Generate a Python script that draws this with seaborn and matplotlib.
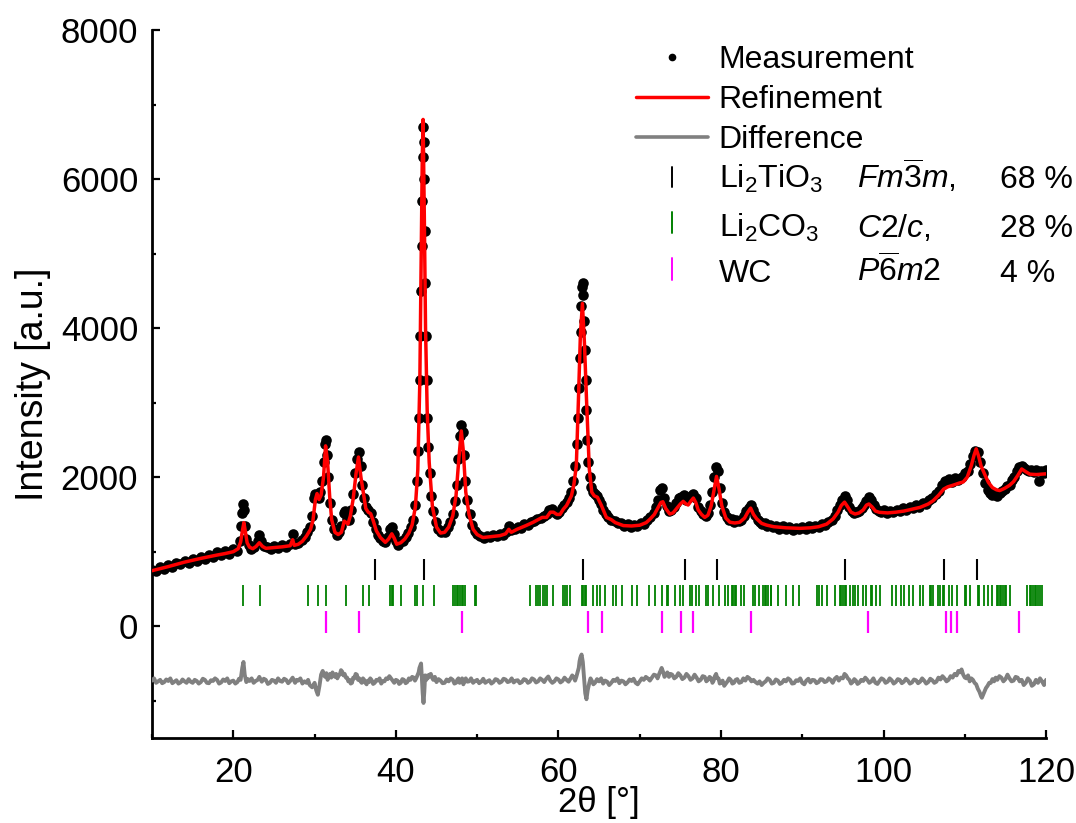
import matplotlib
matplotlib.use("Agg")
import matplotlib.pyplot as plt
from matplotlib.ticker import MultipleLocator
import seaborn as sns
import pandas as pd

# ---------------- data ----------------
# Rietveld refinement (calculated profile): (2theta, intensity)
calc_pts = [
    (10.0, 745), (12.0, 800), (14.0, 860), (16.0, 910), (18.0, 955), (19.0, 975),
    (20.0, 1000), (20.6, 1040), (20.9, 1130), (21.15, 1300), (21.3, 1390), (21.45, 1290),
    (21.7, 1120), (22.0, 1060), (22.4, 1040), (22.8, 1070), (23.2, 1120), (23.6, 1070),
    (24.0, 1045), (25.0, 1055), (26.0, 1065), (27.0, 1080), (27.3, 1160), (27.5, 1085),
    (28.0, 1100), (28.5, 1140), (29.0, 1210), (29.5, 1300), (29.8, 1420), (30.1, 1700),
    (30.3, 1780), (30.55, 1700), (30.8, 1760), (31.1, 2000), (31.35, 2420), (31.6, 2200),
    (31.85, 1750), (32.1, 1430), (32.5, 1260), (32.9, 1230), (33.3, 1260), (33.65, 1410),
    (33.9, 1390), (34.1, 1370), (34.4, 1480), (34.75, 1710), (35.1, 2050), (35.4, 2270),
    (35.7, 2000), (36.0, 1790), (36.3, 1580), (36.6, 1530), (36.9, 1510), (37.2, 1420),
    (37.6, 1280), (38.1, 1190), (38.7, 1125), (39.1, 1170), (39.5, 1240), (39.8, 1180),
    (40.1, 1100), (40.6, 1120), (41.1, 1170), (41.6, 1250), (42.0, 1360), (42.4, 1600),
    (42.7, 2100), (42.95, 3300), (43.1, 4800), (43.25, 6300), (43.35, 6800), (43.5, 5500),
    (43.65, 4000), (43.85, 2900), (44.1, 2200), (44.5, 1600), (45.0, 1330), (45.5, 1250),
    (46.0, 1260), (46.5, 1330), (47.0, 1480), (47.4, 1750), (47.75, 2250), (48.05, 2620),
    (48.3, 2350), (48.6, 1800), (49.0, 1500), (49.5, 1300), (50.0, 1230), (50.7, 1190),
    (51.5, 1200), (52.8, 1215), (53.5, 1240), (53.9, 1300), (54.2, 1260), (54.9, 1300),
    (56.0, 1350), (56.9, 1395), (58.0, 1460), (58.55, 1460), (59.0, 1530), (59.4, 1530),
    (59.8, 1500), (60.2, 1500), (60.6, 1570), (61.0, 1620), (61.6, 1750), (61.9, 1900),
    (62.2, 2150), (62.45, 3000), (62.7, 3900), (62.95, 4330), (63.2, 3800), (63.47, 3000),
    (63.8, 2110), (64.1, 1800), (64.4, 1750), (64.8, 1730), (65.3, 1617), (65.9, 1460),
    (66.5, 1430), (67.0, 1390), (68.0, 1350), (69.0, 1345), (70.0, 1355), (70.8, 1390),
    (71.3, 1440), (71.8, 1500), (72.2, 1580), (72.6, 1660), (72.85, 1670), (73.2, 1580),
    (73.7, 1505), (74.1, 1520), (74.5, 1573), (75.0, 1640), (75.35, 1675), (75.7, 1640),
    (75.96, 1626), (76.3, 1680), (76.6, 1720), (76.9, 1660), (77.2, 1560), (77.6, 1500),
    (78.0, 1460), (78.4, 1490), (78.8, 1617), (79.1, 1800), (79.45, 2010), (79.75, 1850),
    (80.1, 1617), (80.6, 1450), (81.1, 1395), (81.7, 1385), (82.3, 1395), (82.9, 1450),
    (83.3, 1530), (83.65, 1585), (84.0, 1500), (84.4, 1440), (85.0, 1380), (85.6, 1357),
    (86.5, 1335), (88.0, 1320), (89.7, 1313), (91.0, 1320), (92.0, 1335), (93.0, 1370),
    (93.8, 1440), (94.4, 1530), (94.8, 1620), (95.2, 1665), (95.6, 1600), (96.0, 1530),
    (96.5, 1505), (97.0, 1520), (97.5, 1560), (97.9, 1625), (98.2, 1640), (98.6, 1600),
    (99.0, 1545), (99.5, 1528), (100.5, 1520), (101.5, 1530), (102.5, 1545), (103.5, 1570),
    (104.5, 1595), (105.5, 1640), (106.1, 1684), (106.8, 1760), (107.4, 1840), (107.9, 1870),
    (108.5, 1890), (109.3, 1920), (109.8, 1935), (110.3, 2000), (110.8, 2155), (111.15, 2300),
    (111.4, 2380), (111.7, 2280), (112.0, 2150), (112.4, 2050), (112.9, 1930), (113.4, 1860),
    (113.9, 1830), (114.3, 1820), (114.9, 1850), (115.5, 1890), (116.0, 1940), (116.5, 2020),
    (117.0, 2110), (117.4, 2080), (118.0, 2040), (118.8, 2035), (119.4, 2040), (120.0, 2045),
]

# Measured pattern: (2theta, intensity)
meas_pts = [
    (10.0, 760), (10.5, 740), (11.0, 790), (11.5, 770), (12.0, 820), (12.5, 800),
    (13.0, 850), (13.5, 830), (14.0, 870), (14.5, 850), (15.0, 900), (15.5, 880),
    (16.0, 930), (16.5, 905), (17.0, 950), (17.5, 925), (18.0, 990), (18.5, 950),
    (19.0, 1010), (19.5, 975), (20.0, 1030), (20.5, 1010), (20.8, 1150), (21.0, 1350),
    (21.1, 1520), (21.2, 1640), (21.3, 1560), (21.4, 1350), (21.6, 1170), (21.9, 1090),
    (22.2, 1040), (22.6, 1060), (23.0, 1150), (23.2, 1230), (23.4, 1150), (23.8, 1070),
    (24.2, 1060), (24.6, 1030), (25.0, 1070), (25.5, 1050), (26.0, 1090), (26.5, 1060),
    (27.0, 1100), (27.3, 1240), (27.6, 1100), (28.0, 1120), (28.4, 1160), (28.8, 1200),
    (29.1, 1260), (29.4, 1330), (29.7, 1480), (29.9, 1720), (30.1, 1780), (30.3, 1760),
    (30.5, 1720), (30.7, 1800), (30.9, 1950), (31.1, 2200), (31.25, 2450), (31.4, 2500),
    (31.55, 2300), (31.7, 2000), (31.9, 1650), (32.1, 1420), (32.4, 1300), (32.7, 1230),
    (33.0, 1260), (33.3, 1340), (33.6, 1520), (33.8, 1550), (34.0, 1440), (34.2, 1430),
    (34.45, 1560), (34.7, 1780), (34.95, 2050), (35.2, 2250), (35.45, 2340), (35.65, 2150),
    (35.85, 1900), (36.1, 1720), (36.35, 1600), (36.6, 1560), (36.9, 1520), (37.2, 1400),
    (37.5, 1300), (37.8, 1230), (38.1, 1180), (38.4, 1150), (38.7, 1130), (39.0, 1200),
    (39.3, 1300), (39.5, 1330), (39.75, 1240), (40.0, 1140), (40.3, 1090), (40.6, 1140),
    (40.9, 1150), (41.2, 1200), (41.5, 1250), (41.8, 1330), (42.1, 1420), (42.35, 1620),
    (42.55, 1950), (42.7, 2350), (42.82, 2800), (42.93, 3300), (43.02, 3900), (43.1, 4500),
    (43.17, 5100), (43.23, 5700), (43.29, 6300), (43.35, 6700), (43.41, 6500), (43.47, 6000),
    (43.53, 5300), (43.6, 4600), (43.68, 3900), (43.77, 3300), (43.88, 2800), (44.0, 2400),
    (44.15, 2050), (44.35, 1750), (44.6, 1550), (44.9, 1400), (45.2, 1300), (45.5, 1270),
    (45.8, 1280), (46.1, 1260), (46.4, 1330), (46.7, 1400), (47.0, 1500), (47.25, 1680),
    (47.5, 1900), (47.7, 2250), (47.9, 2550), (48.05, 2700), (48.2, 2600), (48.35, 2300),
    (48.55, 1950), (48.8, 1700), (49.1, 1500), (49.4, 1360), (49.7, 1280), (50.0, 1240),
    (50.4, 1210), (50.8, 1180), (51.2, 1210), (51.6, 1200), (52.0, 1230), (52.4, 1210),
    (52.8, 1240), (53.2, 1230), (53.6, 1270), (53.9, 1340), (54.2, 1290), (54.6, 1300),
    (55.0, 1330), (55.4, 1320), (55.8, 1370), (56.2, 1360), (56.6, 1400), (57.0, 1410),
    (57.4, 1440), (57.8, 1450), (58.2, 1480), (58.6, 1500), (58.9, 1560), (59.2, 1570),
    (59.5, 1530), (59.8, 1510), (60.1, 1530), (60.4, 1590), (60.7, 1620), (61.0, 1660),
    (61.3, 1720), (61.6, 1800), (61.85, 1950), (62.05, 2150), (62.25, 2450), (62.4, 2800),
    (62.52, 3200), (62.62, 3600), (62.72, 3950), (62.82, 4300), (62.92, 4550), (63.0, 4600),
    (63.08, 4450), (63.16, 4100), (63.25, 3700), (63.35, 3300), (63.45, 2900), (63.57, 2500),
    (63.7, 2200), (63.85, 2000), (64.0, 1870), (64.2, 1800), (64.45, 1780), (64.7, 1750),
    (64.95, 1700), (65.2, 1640), (65.5, 1560), (65.8, 1500), (66.1, 1460), (66.5, 1430),
    (66.9, 1410), (67.3, 1390), (67.7, 1380), (68.1, 1350), (68.5, 1370), (68.9, 1330),
    (69.3, 1360), (69.7, 1340), (70.1, 1380), (70.5, 1370), (70.9, 1420), (71.3, 1460),
    (71.7, 1520), (72.0, 1600), (72.3, 1700), (72.55, 1830), (72.8, 1850), (73.05, 1720),
    (73.3, 1610), (73.6, 1540), (73.9, 1560), (74.2, 1600), (74.5, 1650), (74.8, 1720),
    (75.1, 1740), (75.4, 1760), (75.7, 1700), (76.0, 1720), (76.3, 1750), (76.6, 1770),
    (76.9, 1720), (77.2, 1600), (77.5, 1540), (77.8, 1500), (78.1, 1480), (78.4, 1520),
    (78.7, 1620), (78.95, 1800), (79.2, 2000), (79.4, 2130), (79.6, 2080), (79.85, 1850),
    (80.1, 1650), (80.4, 1530), (80.7, 1470), (81.0, 1420), (81.3, 1440), (81.6, 1400),
    (81.9, 1430), (82.2, 1410), (82.5, 1420), (82.8, 1480), (83.1, 1540), (83.4, 1590),
    (83.65, 1620), (83.9, 1560), (84.2, 1490), (84.5, 1420), (84.8, 1400), (85.1, 1370),
    (85.4, 1390), (85.7, 1340), (86.0, 1360), (86.4, 1330), (86.8, 1350), (87.2, 1310),
    (87.6, 1340), (88.0, 1300), (88.4, 1330), (88.8, 1290), (89.2, 1320), (89.6, 1300),
    (90.0, 1330), (90.4, 1310), (90.8, 1340), (91.2, 1320), (91.6, 1350), (92.0, 1330),
    (92.4, 1370), (92.8, 1360), (93.2, 1400), (93.6, 1430), (94.0, 1480), (94.3, 1560),
    (94.6, 1620), (94.9, 1700), (95.2, 1750), (95.5, 1700), (95.8, 1600), (96.1, 1540),
    (96.4, 1520), (96.7, 1530), (97.0, 1550), (97.3, 1580), (97.6, 1620), (97.9, 1680),
    (98.2, 1740), (98.5, 1700), (98.8, 1620), (99.1, 1570), (99.4, 1550), (99.7, 1530),
    (100.0, 1560), (100.4, 1520), (100.8, 1550), (101.2, 1530), (101.6, 1560), (102.0, 1540),
    (102.4, 1580), (102.8, 1560), (103.2, 1600), (103.6, 1580), (104.0, 1620), (104.4, 1600),
    (104.8, 1650), (105.2, 1640), (105.6, 1700), (106.0, 1720), (106.4, 1780), (106.8, 1820),
    (107.2, 1900), (107.6, 1950), (108.0, 1970), (108.4, 1940), (108.8, 1990), (109.2, 1960),
    (109.6, 2000), (110.0, 2050), (110.4, 2080), (110.7, 2170), (111.0, 2280), (111.3, 2350),
    (111.6, 2340), (111.9, 2200), (112.2, 2050), (112.5, 1920), (112.8, 1830), (113.1, 1790),
    (113.4, 1760), (113.7, 1780), (114.0, 1750), (114.3, 1790), (114.6, 1820), (114.9, 1840),
    (115.2, 1880), (115.5, 1900), (115.8, 1960), (116.1, 2000), (116.4, 2080), (116.7, 2130),
    (117.0, 2150), (117.3, 2120), (117.6, 2100), (117.9, 2080), (118.2, 2100), (118.5, 2070),
    (118.8, 2090), (119.1, 1950), (119.4, 2080), (119.7, 2060), (120.0, 2100),
]

# Difference curve (offset below the pattern): (2theta, intensity)
diff_pts = [
    (10.0, -730), (10.25, -700), (10.5, -760), (10.75, -740), (11.0, -720), (11.25, -765),
    (11.5, -750), (11.75, -715), (12.0, -735), (12.25, -700), (12.5, -765), (12.75, -745),
    (13.0, -725), (13.25, -770), (13.5, -755), (13.75, -715), (14.0, -740), (14.25, -760),
    (14.5, -710), (14.75, -745), (15.0, -760), (15.25, -720), (15.5, -735), (15.75, -770),
    (16.0, -750), (16.25, -705), (16.5, -720), (16.75, -760), (17.0, -765), (17.25, -725),
    (17.5, -735), (17.75, -700), (18.0, -720), (18.25, -770), (18.5, -755), (18.75, -715),
    (19.0, -735), (19.25, -700), (19.5, -765), (19.75, -740), (20.0, -730), (20.25, -770),
    (20.5, -750), (20.7, -705), (20.9, -720), (21.1, -560), (21.25, -480), (21.4, -650),
    (21.6, -750), (21.8, -710), (22.0, -735), (22.25, -700), (22.5, -760), (22.75, -735),
    (23.0, -720), (23.2, -680), (23.5, -745), (23.75, -705), (24.0, -720), (24.25, -775),
    (24.5, -760), (24.75, -720), (25.0, -730), (25.25, -760), (25.5, -700), (25.75, -735),
    (26.0, -745), (26.25, -705), (26.5, -720), (26.75, -765), (27.0, -735), (27.3, -690),
    (27.6, -760), (27.8, -720), (28.0, -730), (28.25, -700), (28.5, -770), (28.75, -740),
    (29.0, -760), (29.2, -720), (29.4, -790), (29.7, -820), (30.0, -760), (30.2, -860),
    (30.4, -920), (30.6, -800), (30.8, -650), (31.0, -600), (31.15, -660), (31.3, -680),
    (31.45, -630), (31.6, -720), (31.75, -660), (31.9, -640), (32.05, -690), (32.2, -620),
    (32.35, -660), (32.5, -680), (32.65, -640), (32.8, -700), (32.95, -660), (33.1, -650),
    (33.25, -590), (33.4, -610), (33.55, -660), (33.7, -640), (33.85, -690), (34.0, -690),
    (34.15, -740), (34.3, -720), (34.45, -770), (34.6, -760), (34.75, -690), (34.9, -700),
    (35.05, -640), (35.2, -650), (35.35, -720), (35.5, -700), (35.65, -740), (35.8, -760),
    (35.95, -700), (36.1, -720), (36.25, -760), (36.4, -780), (36.55, -730), (36.7, -750),
    (36.85, -700), (37.0, -720), (37.2, -775), (37.4, -760), (37.6, -720), (37.8, -730),
    (38.0, -700), (38.2, -770), (38.4, -735), (38.6, -740), (38.8, -700), (39.0, -710),
    (39.2, -670), (39.4, -700), (39.6, -730), (39.8, -760), (40.0, -720), (40.2, -730),
    (40.4, -775), (40.6, -760), (40.8, -710), (41.0, -720), (41.2, -765), (41.4, -750),
    (41.6, -700), (41.8, -720), (42.0, -680), (42.2, -690), (42.35, -730), (42.5, -700),
    (42.65, -660), (42.8, -620), (42.9, -560), (43.0, -530), (43.1, -500), (43.2, -700),
    (43.3, -900), (43.4, -1030), (43.5, -880), (43.6, -660), (43.75, -720), (43.9, -660),
    (44.0, -690), (44.15, -650), (44.3, -640), (44.45, -690), (44.6, -720), (44.8, -680),
    (45.0, -750), (45.25, -710), (45.5, -730), (45.75, -765), (46.0, -760), (46.25, -715),
    (46.5, -740), (46.75, -700), (47.0, -720), (47.2, -770), (47.4, -760), (47.55, -720),
    (47.7, -700), (47.85, -760), (48.0, -740), (48.15, -700), (48.3, -780), (48.45, -740),
    (48.6, -700), (48.8, -745), (49.0, -740), (49.25, -700), (49.5, -760), (49.75, -735),
    (50.0, -720), (50.25, -765), (50.5, -745), (50.75, -705), (51.0, -760), (51.25, -740),
    (51.5, -725), (51.75, -770), (52.0, -750), (52.25, -710), (52.5, -720), (52.75, -760),
    (53.0, -745), (53.25, -705), (53.5, -715), (53.75, -750), (54.0, -740), (54.25, -700),
    (54.5, -755), (54.75, -730), (55.0, -725), (55.25, -765), (55.5, -750), (55.75, -710),
    (56.0, -720), (56.25, -760), (56.5, -745), (56.75, -700), (57.0, -715), (57.25, -755),
    (57.5, -740), (57.75, -700), (58.0, -720), (58.25, -750), (58.5, -705), (58.75, -675),
    (59.0, -730), (59.25, -760), (59.5, -740), (59.75, -700), (60.0, -715), (60.25, -755),
    (60.5, -735), (60.75, -690), (61.0, -720), (61.25, -745), (61.5, -700), (61.7, -660),
    (61.9, -690), (62.05, -730), (62.2, -680), (62.35, -620), (62.5, -560), (62.6, -470),
    (62.7, -420), (62.85, -380), (63.0, -480), (63.15, -700), (63.3, -900), (63.45, -980),
    (63.6, -860), (63.8, -760), (63.95, -700), (64.1, -730), (64.3, -780), (64.5, -760),
    (64.75, -710), (65.0, -740), (65.25, -700), (65.5, -770), (65.75, -730), (66.0, -745),
    (66.25, -790), (66.5, -760), (66.75, -720), (67.0, -735), (67.25, -700), (67.5, -765),
    (67.75, -730), (68.0, -740), (68.25, -780), (68.5, -755), (68.75, -715), (69.0, -735),
    (69.25, -705), (69.5, -760), (69.75, -780), (70.0, -740), (70.25, -700), (70.5, -720),
    (70.75, -680), (71.0, -700), (71.25, -730), (71.5, -690), (71.75, -650), (72.0, -660),
    (72.2, -700), (72.4, -640), (72.55, -600), (72.7, -560), (72.9, -620), (73.05, -680),
    (73.2, -660), (73.4, -620), (73.6, -680), (73.8, -640), (74.0, -650), (74.25, -700),
    (74.5, -680), (74.75, -630), (75.0, -660), (75.25, -710), (75.5, -690), (75.75, -640),
    (76.0, -670), (76.25, -720), (76.5, -700), (76.75, -650), (77.0, -690), (77.25, -740),
    (77.5, -720), (77.75, -670), (78.0, -680), (78.2, -740), (78.4, -720), (78.6, -680),
    (78.8, -700), (78.95, -760), (79.1, -730), (79.25, -670), (79.4, -640), (79.55, -700),
    (79.7, -700), (79.85, -770), (80.0, -760), (80.2, -730), (80.4, -800), (80.6, -770),
    (80.8, -740), (81.0, -700), (81.2, -720), (81.4, -770), (81.6, -760), (81.8, -720),
    (82.0, -710), (82.25, -760), (82.5, -750), (82.75, -700), (83.0, -730), (83.25, -680),
    (83.5, -700), (83.75, -740), (84.0, -720), (84.25, -750), (84.5, -770), (84.75, -740),
    (85.0, -790), (85.25, -760), (85.5, -740), (85.75, -700), (86.0, -720), (86.25, -770),
    (86.5, -760), (86.75, -715), (87.0, -730), (87.25, -775), (87.5, -760), (87.75, -720),
    (88.0, -740), (88.25, -700), (88.5, -720), (88.75, -770), (89.0, -765), (89.25, -725),
    (89.5, -735), (89.75, -700), (90.0, -760), (90.25, -780), (90.5, -730), (90.75, -705),
    (91.0, -755), (91.25, -720), (91.5, -725), (91.75, -765), (92.0, -750), (92.25, -710),
    (92.5, -715), (92.75, -750), (93.0, -740), (93.25, -700), (93.5, -720), (93.75, -760),
    (94.0, -705), (94.25, -680), (94.5, -730), (94.75, -690), (95.0, -700), (95.2, -640),
    (95.4, -660), (95.6, -700), (95.8, -720), (96.0, -770), (96.2, -750), (96.4, -710),
    (96.6, -730), (96.8, -775), (97.0, -760), (97.25, -720), (97.5, -735), (97.75, -690),
    (98.0, -720), (98.25, -760), (98.5, -740), (98.75, -700), (99.0, -760), (99.25, -775),
    (99.5, -735), (99.75, -700), (100.0, -715), (100.25, -760), (100.5, -745), (100.75, -700),
    (101.0, -725), (101.25, -770), (101.5, -750), (101.75, -710), (102.0, -720), (102.25, -765),
    (102.5, -745), (102.75, -705), (103.0, -730), (103.25, -770), (103.5, -755), (103.75, -715),
    (104.0, -725), (104.25, -765), (104.5, -745), (104.75, -700), (105.0, -730), (105.25, -770),
    (105.5, -750), (105.75, -705), (106.0, -725), (106.25, -760), (106.5, -745), (106.75, -690),
    (107.0, -715), (107.25, -670), (107.5, -700), (107.75, -740), (108.0, -720), (108.25, -670),
    (108.5, -690), (108.75, -640), (109.0, -660), (109.2, -600), (109.4, -620), (109.6, -580),
    (109.8, -650), (110.0, -690), (110.2, -700), (110.4, -660), (110.6, -740), (110.8, -700),
    (111.0, -720), (111.2, -760), (111.4, -780), (111.6, -840), (111.8, -880), (112.0, -940),
    (112.1, -960), (112.25, -920), (112.4, -880), (112.6, -830), (112.8, -800), (113.0, -760),
    (113.2, -760), (113.4, -710), (113.6, -740), (113.8, -690), (114.0, -720), (114.25, -670),
    (114.5, -690), (114.75, -740), (115.0, -710), (115.25, -650), (115.5, -700), (115.75, -740),
    (116.0, -730), (116.25, -680), (116.5, -690), (116.75, -740), (117.0, -720), (117.25, -790),
    (117.5, -760), (117.75, -700), (118.0, -730), (118.25, -800), (118.5, -780), (118.75, -720),
    (119.0, -760), (119.25, -700), (119.5, -740), (119.75, -790), (120.0, -720),
]

# Bragg reflection positions (2theta) for each phase
li2tio3_refl = [37.4, 43.4, 63.0, 75.6, 79.5, 95.3, 107.4, 111.5]
li2co3_refl = [
    21.15, 23.3, 29.2, 30.4, 31.4, 33.9, 35.9, 36.7, 39.3, 39.5, 39.7, 40.6,
    42.35, 42.55, 43.3, 44.7, 47.05, 47.25, 47.5, 47.7, 47.9, 48.1, 48.3, 48.5,
    49.7, 49.9, 56.5, 57.3, 57.5, 57.7, 58.1, 58.35, 58.55, 59.3, 60.6, 60.8,
    61.0, 61.4, 62.9, 63.05, 63.25, 63.45, 64.3, 64.7, 65.1, 65.7, 66.7, 67.1,
    67.8, 69.0, 69.7, 71.2, 71.9, 72.8, 73.3, 73.5, 74.3, 74.9, 75.3, 76.2,
    76.4, 76.9, 77.3, 78.1, 78.4, 79.0, 79.7, 80.5, 80.9, 81.3, 81.5, 81.7,
    81.9, 82.5, 82.8, 84.0, 84.2, 84.7, 85.2, 85.4, 85.6, 85.8, 86.1, 86.2,
    87.0, 88.0, 88.8, 89.6, 91.8, 92.1, 92.4, 93.0, 94.0, 94.6, 94.8, 95.0,
    95.2, 95.4, 95.9, 96.3, 96.5, 96.9, 97.5, 97.9, 98.4, 98.6, 99.1, 99.6,
    101.0, 101.5, 102.2, 102.5, 103.1, 103.6, 104.5, 104.9, 105.7, 105.9, 106.1, 106.7,
    106.9, 107.3, 107.5, 108.1, 108.4, 109.1, 110.0, 110.2, 110.6, 111.6, 111.8, 112.3,
    112.9, 113.3, 113.9, 114.1, 114.3, 114.5, 114.7, 114.9, 115.1, 115.5, 117.6, 118.0,
    118.2, 118.4, 118.6, 118.8, 119.0, 119.2, 119.5,
]
wc_refl = [31.4, 35.5, 48.1, 63.7, 65.4, 72.7, 75.1, 76.6, 83.7, 98.1, 107.7, 108.3, 109.1, 116.7]

legend_labels = ["Measurement", "Refinement", "Difference"]
phase_names = [r"Li$_2$TiO$_3$", r"Li$_2$CO$_3$", "WC"]
space_groups = [r"$Fm\overline{3}m$,", r"$C2/c$,", r"$P\overline{6}m2$"]
phase_fractions = ["68 %", "28 %", "4 %"]
phase_colors = ["black", "#008000", "#ff00ff"]

# ---------------- styling ----------------
sns.set_theme(style="ticks")
plt.rcParams["font.family"] = ["Liberation Sans", "DejaVu Sans"]
plt.rcParams["mathtext.fontset"] = "custom"
plt.rcParams["mathtext.rm"] = "Liberation Sans"
plt.rcParams["mathtext.it"] = "Liberation Sans:italic"
plt.rcParams["mathtext.bf"] = "Liberation Sans:bold"
plt.rcParams["text.color"] = "black"
plt.rcParams["axes.labelcolor"] = "black"
plt.rcParams["xtick.color"] = "black"
plt.rcParams["ytick.color"] = "black"

FS = 23        # legend text
TICK_FS = 25   # tick labels
LABEL_FS = 25  # axis titles

fig = plt.figure(figsize=(10.76, 8.23), dpi=100)
ax = fig.add_axes([0.1413, 0.1033, 0.8309, 0.8602])

meas = pd.DataFrame(meas_pts, columns=["tt", "I"])
calc = pd.DataFrame(calc_pts, columns=["tt", "I"])
diff = pd.DataFrame(diff_pts, columns=["tt", "I"])

sns.scatterplot(data=meas, x="tt", y="I", color="black", s=58, linewidth=0,
                ax=ax, zorder=2, legend=False)
sns.lineplot(data=calc, x="tt", y="I", color="#ff0000", lw=2.5, sort=False,
             estimator=None, ax=ax, zorder=3)
sns.lineplot(data=diff, x="tt", y="I", color="#808080", lw=2.8, sort=False,
             estimator=None, ax=ax, zorder=3)

ax.vlines(li2tio3_refl, 620, 900, colors=phase_colors[0], lw=1.5)
ax.vlines(li2co3_refl, 275, 555, colors=phase_colors[1], lw=1.3)
ax.vlines(wc_refl, -85, 200, colors=phase_colors[2], lw=1.6)

ax.set_xlim(10, 120)
ax.set_ylim(-1500, 8000)
ax.set_xticks([20, 40, 60, 80, 100, 120])
ax.xaxis.set_minor_locator(MultipleLocator(10))
ax.set_yticks([0, 2000, 4000, 6000, 8000])
ax.set_yticks([-1000, 1000, 3000, 5000, 7000], minor=True)

for s in ["top", "right"]:
    ax.spines[s].set_visible(False)
for s in ["left", "bottom"]:
    ax.spines[s].set_linewidth(2.0)
    ax.spines[s].set_color("black")

ax.tick_params(which="major", direction="in", length=6, width=1.6,
               labelsize=TICK_FS, colors="black")
ax.tick_params(which="minor", direction="in", length=3, width=1.6, colors="black")
ax.tick_params(axis="y", which="major", pad=10)
ax.tick_params(axis="x", which="major", pad=13)

ax.set_xlabel("2θ [°]", fontsize=LABEL_FS, labelpad=-2)
ax.set_ylabel("Intensity [a.u.]", fontsize=27, labelpad=7)

# ---------------- legend (built by hand) ----------------
T = ax.transAxes
ax.plot([0.5813], [0.9623], "o", color="black", ms=4.5, transform=T, clip_on=False)
ax.plot([0.5414, 0.6223], [0.9058, 0.9058], color="#ff0000", lw=2.5, transform=T, clip_on=False)
ax.plot([0.5414, 0.6223], [0.8493, 0.8493], color="#808080", lw=2.6, transform=T, clip_on=False)
tick_rows = [(0.7787, 0.8069), (0.7129, 0.7434), (0.6469, 0.6780)]
for (y0, y1), c in zip(tick_rows, phase_colors):
    ax.plot([0.5813, 0.5813], [y0, y1], color=c, lw=1.4, transform=T, clip_on=False)

text_x = 0.634
for lab, yb in zip(legend_labels, [0.9459, 0.8898, 0.8329]):
    ax.text(text_x, yb, lab, transform=T, fontsize=FS, va="baseline", ha="left")
for name, sg, frac, yb in zip(phase_names, space_groups, phase_fractions,
                              [0.7764, 0.7081, 0.6445]):
    ax.text(text_x, yb, name, transform=T, fontsize=FS, va="baseline", ha="left")
    ax.text(0.789, yb, sg, transform=T, fontsize=FS, va="baseline", ha="left")
    ax.text(0.949, yb, frac, transform=T, fontsize=FS, va="baseline", ha="left")

fig.savefig("out.png", dpi=100)
